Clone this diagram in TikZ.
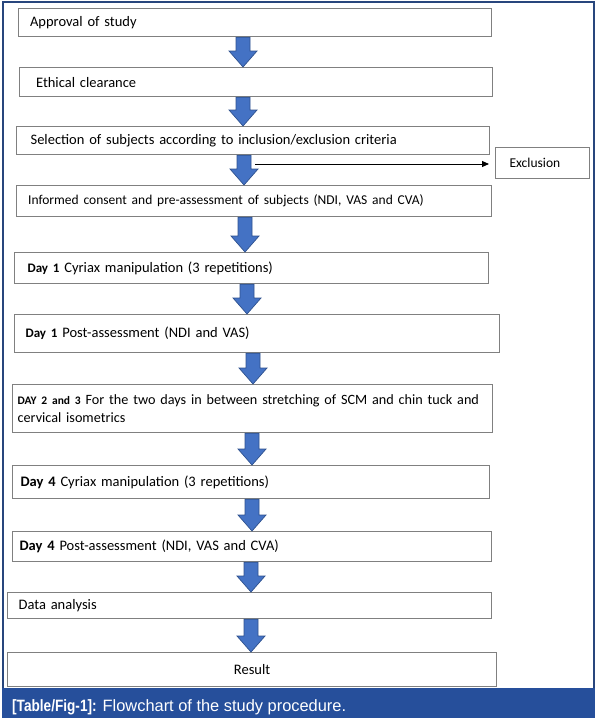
\documentclass[tikz,border=0pt]{standalone}
\usepackage{fontspec}
\setmainfont{Carlito}
\newfontfamily\capfont{Liberation Sans}
\newfontfamily\capbold[FakeStretch=0.83]{Liberation Sans}
\usetikzlibrary{arrows.meta,calc}
\definecolor{framecol}{RGB}{40,70,125}
\definecolor{bandcol}{RGB}{38,79,155}
\definecolor{boxline}{RGB}{128,128,128}
\definecolor{arrfill}{RGB}{68,114,196}
\definecolor{arrline}{RGB}{47,82,143}
\tikzset{
  box/.style={draw=boxline, line width=1.2pt, fill=white, inner ysep=0pt,
    align=left, font=\fontsize{14.5}{18}\selectfont},
  blockarr/.style={fill=arrfill, draw=arrline, line width=0.7pt},
  excl arrow/.style={draw=black, line width=0.9pt, -{Triangle[length=7pt,width=6pt]}}
}
% #1 name, #2 x1, #3 y1, #4 width, #5 height, #6 pad, #7 text width, #8 text
\newcommand\flowbox[8]{%
  \node[box, anchor=north west, minimum width=#4pt, minimum height=#5pt,
        inner xsep=#6pt, text width=#7pt] (#1) at (#2,#3) {#8};}
% #1 x centre, #2 from node, #3 to node
\newcommand\barrow[3]{%
  \draw[blockarr] let \p1=(#2.south), \p2=(#3.north) in
    ({(#1-7)*1pt},\y1) -- ({(#1+7)*1pt},\y1) -- ({(#1+7)*1pt},{\y2+16pt})
    -- ({(#1+14)*1pt},{\y2+16pt}) -- ({#1*1pt},\y2) -- ({(#1-14)*1pt},{\y2+16pt})
    -- ({(#1-7)*1pt},{\y2+16pt}) -- cycle;}
\begin{document}
\begin{tikzpicture}[x=1pt,y=-1pt]
\fill[white] (0,0) rectangle (598,723);
\useasboundingbox (0,0) rectangle (598,723);
\draw[framecol, line width=1.3pt] (3,2) rectangle (594,689);
\fill[bandcol] (2,688) rectangle (595,718);
\node[anchor=base west, text=white, inner sep=0pt, font=\capfont\fontsize{16.4}{19}\selectfont] (cap) at (12,711)
  {{\capbold\bfseries [Table/Fig-1]:} Flowchart of the study procedure.};

\flowbox{b1}{18}{8}{473}{28}{10}{450}{Approval of study}
\flowbox{b2}{19}{67}{473}{29}{13}{440}{Ethical clearance}
\flowbox{b3}{16}{126}{473}{28}{13}{445}{Selection of subjects according to inclusion/exclusion criteria}
\flowbox{excl}{495}{147}{94}{31}{13}{66}{\fontsize{13.5}{16}\selectfont Exclusion}
\flowbox{b4}{16}{185}{475}{31}{10}{452}{\fontsize{13.5}{16}\selectfont Informed consent and pre-assessment of subjects (NDI, VAS and CVA)}
\flowbox{b5}{14}{252}{474}{31}{12}{448}{{\fontsize{13}{16}\selectfont\bfseries Day 1} Cyriax manipulation (3 repetitions)}
\flowbox{b6}{14}{314}{485}{38}{10}{463}{{\fontsize{13}{16}\selectfont\bfseries Day 1} Post-assessment (NDI and VAS)}
\flowbox{b7}{12}{384}{480}{48}{4}{470}{\fontsize{14.2}{18}\selectfont{\fontsize{11.5}{16}\selectfont\bfseries DAY 2 and 3} For the two days in between stretching of SCM and chin tuck and cervical isometrics}
\flowbox{b8}{12}{465}{477}{33}{7}{461}{{\bfseries Day 4} Cyriax manipulation (3 repetitions)}
\flowbox{b9}{12}{531}{479}{30}{6}{465}{{\bfseries Day 4} Post-assessment (NDI, VAS and CVA)}
\flowbox{b10}{7}{592}{484}{26}{10}{462}{Data analysis}
\node[box, anchor=north west, minimum width=489pt, minimum height=34pt, align=center] (b11) at (7,652) {Result};

\barrow{243}{b1}{b2}
\barrow{243}{b2}{b3}
\barrow{244}{b3}{b4}
\barrow{245}{b4}{b5}
\barrow{247}{b5}{b6}
\barrow{253}{b6}{b7}
\barrow{252}{b7}{b8}
\barrow{252}{b8}{b9}
\barrow{251}{b9}{b10}
\barrow{251}{b10}{b11}

\coordinate (ex0) at (255,164);
\draw[excl arrow, shorten >=6pt] (ex0) -- (ex0 -| excl.west);
\end{tikzpicture}
\end{document}
